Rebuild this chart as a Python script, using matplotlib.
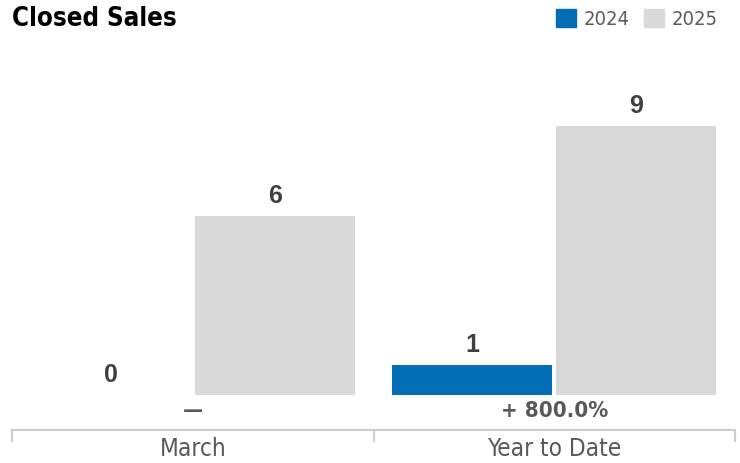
import matplotlib.pyplot as plt
from matplotlib import font_manager
from matplotlib.font_manager import FontProperties
from matplotlib.patches import Patch

# data
categories = ['March', 'Year to Date']
years = ['2024', '2025']
sales_2024 = [0, 1]
sales_2025 = [6, 9]
changes = ['\u2014', '+ 800.0%']

blue = '#006db5'
grey = '#d9d9d9'
txt = '#595959'


def narrow_font(bold, size):
    # look for a condensed / narrow face, else fall back to Roboto
    for f in font_manager.fontManager.ttflist:
        cond = ('Narrow' in f.name or 'Condensed' in f.name
                or f.stretch in ('condensed', 'semi-condensed', 'extra-condensed'))
        w = f.weight if isinstance(f.weight, int) else (700 if f.weight == 'bold' else 400)
        if cond and f.style == 'normal' and ((w >= 600) == bold):
            return FontProperties(fname=f.fname, size=size)
    return FontProperties(family='Roboto', weight='bold' if bold else 'normal', size=size * 0.88)


fig = plt.figure(figsize=(7.4, 4.63), dpi=100)
ax = fig.add_axes([12 / 740, 33 / 463, 723 / 740, 370 / 463])

unit = 29.85  # px per sale
ybot = -35 / unit
ax.set_ylim(ybot, 335 / unit)
ax.set_xlim(-0.5, 1.5)

w = 160 / 361
off = 82 / 361
x = list(range(len(categories)))
ax.bar([i - off for i in x], sales_2024, width=w, color=blue)
ax.bar([i + off for i in x], sales_2025, width=w, color=grey)

pct_font = narrow_font(True, 16)
cat_font = narrow_font(False, 17.5)
title_font = narrow_font(True, 18.5)
leg_font = narrow_font(False, 14.5)

for i in x:
    ax.text(i - off, sales_2024[i] + 8 / unit, str(sales_2024[i]), ha='center', va='bottom',
            fontsize=18, fontweight='bold', color='#404040', family='Liberation Sans')
    ax.text(i + off, sales_2025[i] + 8 / unit, str(sales_2025[i]), ha='center', va='bottom',
            fontsize=18, fontweight='bold', color='#404040', family='Liberation Sans')
    ax.text(i, -16 / unit, changes[i], ha='center', va='center',
            fontproperties=pct_font, color=txt)
    ax.text(i, -54 / unit, categories[i], ha='center', va='center',
            fontproperties=cat_font, color=txt)

for s in ['top', 'right', 'left']:
    ax.spines[s].set_visible(False)
ax.spines['bottom'].set_color('#cccccc')
ax.spines['bottom'].set_linewidth(1.5)
ax.set_xticks([])
ax.set_yticks([])
ax.vlines([-0.5, 0.5, 1.5], ybot - 12 / unit, ybot, color='#cccccc', lw=1.5, clip_on=False)

fig.text(12 / 740, 1 - 6 / 463, 'Closed Sales', ha='left', va='top',
         fontproperties=title_font, color='black')

handles = [Patch(color=blue, label=years[0]), Patch(color=grey, label=years[1])]
leg = fig.legend(handles=handles, loc='upper right', bbox_to_anchor=(718 / 740, 1 - 9 / 463),
                 ncol=2, frameon=False, borderpad=0, borderaxespad=0,
                 handlelength=1.0, handleheight=1.0, handletextpad=0.4, columnspacing=0.7,
                 prop=leg_font)
for t in leg.get_texts():
    t.set_color(txt)

fig.savefig('out.png', dpi=100)
